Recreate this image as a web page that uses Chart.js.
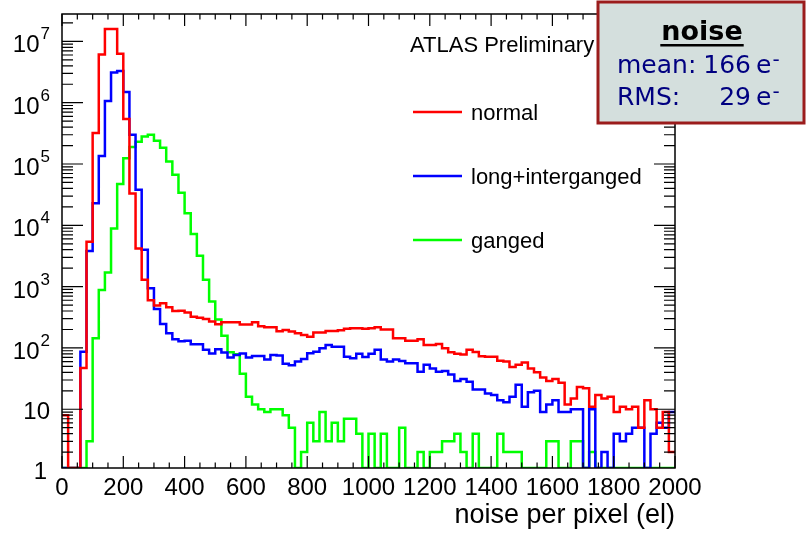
<!DOCTYPE html>
<html>
<head>
<meta charset="utf-8">
<title>Noise per pixel</title>
<script src="https://cdn.jsdelivr.net/npm/chart.js@4.4.1/dist/chart.umd.min.js"></script>
<style>
  body { margin: 0; background: #fff; }
</style>
</head>
<body>
<canvas id="noiseChart" width="809" height="540"></canvas>
<script>
// histogram bins, 20 el wide, 0..2000
const binWidth = 20;
const binLow = [];
for (let i = 0; i < 100; i++) binLow.push(i * binWidth);

// counts per bin
const normal = [
  8, 0, 0, 47, 5400, 320000, 6100000, 16000000, 16000000, 6300000,
  540000, 33000, 4200, 1300, 600, 490, 535, 460, 400, 405,
  377, 324, 312, 297, 270, 244, 263, 263, 263, 240,
  240, 263, 226, 217, 217, 187, 196, 185, 173, 163,
  152, 178, 178, 189, 189, 195, 205, 210, 210, 205,
  210, 217, 200, 200, 144, 144, 131, 131, 139, 112,
  112, 116, 99, 85, 80, 78, 93, 86, 73, 72,
  72, 62, 60, 49, 53, 58, 46, 40, 33, 29,
  31, 27, 12, 15, 23, 22, 11, 17, 15, 16,
  9, 11, 10, 11, 5, 14, 10, 5, 9, 2
];
const longInterganged = [
  0, 0, 0, 87, 3800, 23000, 135000, 1070000, 3100000, 3300000,
  1500000, 300000, 38000, 4000, 940, 430, 245, 173, 138, 128,
  131, 115, 115, 93, 81, 95, 84, 70, 77, 81,
  70, 74, 74, 65, 77, 75, 55, 52, 60, 66,
  82, 87, 99, 112, 105, 105, 72, 68, 80, 71,
  80, 93, 65, 60, 65, 61, 56, 56, 41, 53,
  46, 41, 42, 37, 29, 31, 28, 21, 21, 18,
  17, 14, 13, 16, 25, 11, 19, 20, 9, 12,
  14, 9, 9, 10, 10, 0, 10, 0, 2, 0,
  4, 3, 4, 5, 5, 0, 4, 6, 5, 9
];
const ganged = [
  0, 0, 0, 0, 3, 144, 880, 1700, 8900, 47000,
  124000, 190000, 230000, 280000, 300000, 240000, 185000, 110000, 67000, 34000,
  15800, 7200, 3200, 1290, 570, 290, 158, 85, 79, 38,
  16, 12, 10, 9, 10, 10, 8, 5, 0, 2,
  6, 3, 9, 3, 6, 3, 7, 7, 4, 0,
  4, 0, 4, 0, 0, 5, 0, 0, 2, 0,
  2, 2, 3, 3, 4, 2, 0, 4, 0, 0,
  0, 4, 2, 2, 2, 0, 0, 0, 0, 3,
  3, 0, 0, 3, 3, 0, 2, 0, 0, 0,
  0, 0, 0, 0, 0, 0, 0, 0, 0, 0
];

const seriesNames = ['normal', 'long+interganged', 'ganged'];
const seriesColors = ['#ff0000', '#0000ff', '#00ff00'];
const xTickLabels = ['0', '200', '400', '600', '800', '1000', '1200', '1400', '1600', '1800', '2000'];
const yTickPowers = [0, 1, 2, 3, 4, 5, 6, 7];

const yMin = 1.1;
const yMax = 2.8e7;

// empty bins sit on the bottom axis like in ROOT
function toPoints(counts) {
  const pts = counts.map((c, i) => ({ x: binLow[i], y: c > 0 ? c : yMin }));
  pts.push({ x: binLow[binLow.length - 1] + binWidth, y: pts[pts.length - 1].y });
  return pts;
}

const axisFont = '"Liberation Sans", Arial, sans-serif';
const boxFont = '"DejaVu Sans", sans-serif';

const frameAndText = {
  id: 'frameAndText',
  afterDraw(chart) {
    const ctx = chart.ctx;
    const a = chart.chartArea;
    const xs = chart.scales.x;
    const ys = chart.scales.y;
    ctx.save();

    // frame
    ctx.strokeStyle = '#000';
    ctx.lineWidth = 1.5;
    ctx.strokeRect(a.left, a.top, a.right - a.left, a.bottom - a.top);

    // x ticks, inside, top and bottom
    ctx.lineWidth = 1.2;
    ctx.beginPath();
    for (let v = 0; v <= 2000; v += 50) {
      const px = xs.getPixelForValue(v);
      const len = v % 200 === 0 ? 12 : 5.5;
      ctx.moveTo(px, a.bottom); ctx.lineTo(px, a.bottom - len);
      ctx.moveTo(px, a.top); ctx.lineTo(px, a.top + len);
    }
    // y ticks, log, left and right
    for (let p = 0; p <= 7; p++) {
      for (let m = 1; m <= 9; m++) {
        const v = m * Math.pow(10, p);
        if (v < yMin || v > yMax) continue;
        const py = ys.getPixelForValue(v);
        const len = m === 1 ? 21 : 11;
        ctx.moveTo(a.left, py); ctx.lineTo(a.left + len, py);
        ctx.moveTo(a.right, py); ctx.lineTo(a.right - len, py);
      }
    }
    ctx.stroke();

    // x tick labels
    ctx.fillStyle = '#000';
    ctx.font = '24px ' + axisFont;
    ctx.textAlign = 'center';
    ctx.textBaseline = 'alphabetic';
    xTickLabels.forEach(t => {
      ctx.fillText(t, xs.getPixelForValue(Number(t)), 495);
    });

    // y tick labels
    yTickPowers.forEach(p => {
      const py = ys.getPixelForValue(Math.pow(10, p));
      ctx.textAlign = 'right';
      if (p === 0) {
        ctx.font = '24px ' + axisFont;
        ctx.fillText('1', 47, py + 8);
      } else if (p === 1) {
        ctx.font = '24px ' + axisFont;
        ctx.fillText('10', 50, py + 10);
      } else {
        ctx.font = '17px ' + axisFont;
        const ew = ctx.measureText(String(p)).width;
        ctx.fillText(String(p), 50, py - 2);
        ctx.font = '24px ' + axisFont;
        ctx.fillText('10', 50 - ew - 1, py + 11);
      }
    });

    // axis title
    ctx.font = '27px ' + axisFont;
    ctx.textAlign = 'right';
    ctx.fillText('noise per pixel (el)', a.right, 523);

    // ATLAS label and legend
    ctx.font = '22px ' + axisFont;
    ctx.textAlign = 'left';
    ctx.fillText('ATLAS Preliminary', 410, 52);
    const legendY = [112, 176, 240];
    seriesNames.forEach((name, i) => {
      ctx.strokeStyle = seriesColors[i];
      ctx.lineWidth = 2.5;
      ctx.beginPath();
      ctx.moveTo(413, legendY[i]);
      ctx.lineTo(462, legendY[i]);
      ctx.stroke();
      ctx.fillStyle = '#000';
      ctx.fillText(name, 471, legendY[i] + 8);
    });

    // noise summary box
    ctx.fillStyle = '#d4dfdd';
    ctx.fillRect(597, 1, 208, 123);
    ctx.strokeStyle = '#9b1c1c';
    ctx.lineWidth = 3;
    ctx.strokeRect(598, 2, 206, 121);

    ctx.fillStyle = '#000';
    ctx.font = 'bold 27px ' + boxFont;
    ctx.textAlign = 'center';
    ctx.fillText('noise', 702, 40);
    const nw = ctx.measureText('noise').width;
    ctx.fillRect(702 - nw / 2 - 1, 44, nw + 2, 2.5);

    ctx.fillStyle = '#000080';
    ctx.font = '25px ' + boxFont;
    ctx.textAlign = 'left';
    ctx.fillText('mean:', 617, 73);
    ctx.fillText('RMS:', 617, 105);
    ctx.textAlign = 'right';
    ctx.fillText('166', 751, 73);
    ctx.fillText('29', 751, 105);
    ctx.textAlign = 'left';
    ctx.fillText('e', 756, 73);
    ctx.fillText('e', 756, 105);
    const ewid = ctx.measureText('e').width;
    ctx.font = '20px ' + boxFont;
    ctx.fillText('-', 756 + ewid + 1, 66);
    ctx.fillText('-', 756 + ewid + 1, 98);

    ctx.restore();
  }
};

const ctx = document.getElementById('noiseChart').getContext('2d');
const chart = new Chart(ctx, {
  type: 'line',
  data: {
    datasets: [normal, longInterganged, ganged].map((counts, i) => ({
      label: seriesNames[i],
      data: toPoints(counts),
      borderColor: seriesColors[i],
      borderWidth: 2.5,
      stepped: true,
      fill: false,
      pointRadius: 0,
      tension: 0
    }))
  },
  options: {
    responsive: false,
    animation: false,
    layout: { padding: { left: 62, top: 14, right: 134, bottom: 72 } },
    plugins: { legend: { display: false }, tooltip: { enabled: false } },
    scales: {
      x: { type: 'linear', min: 0, max: 2000, display: false },
      y: { type: 'logarithmic', min: yMin, max: yMax, display: false }
    }
  },
  plugins: [frameAndText]
});
</script>
</body>
</html>
